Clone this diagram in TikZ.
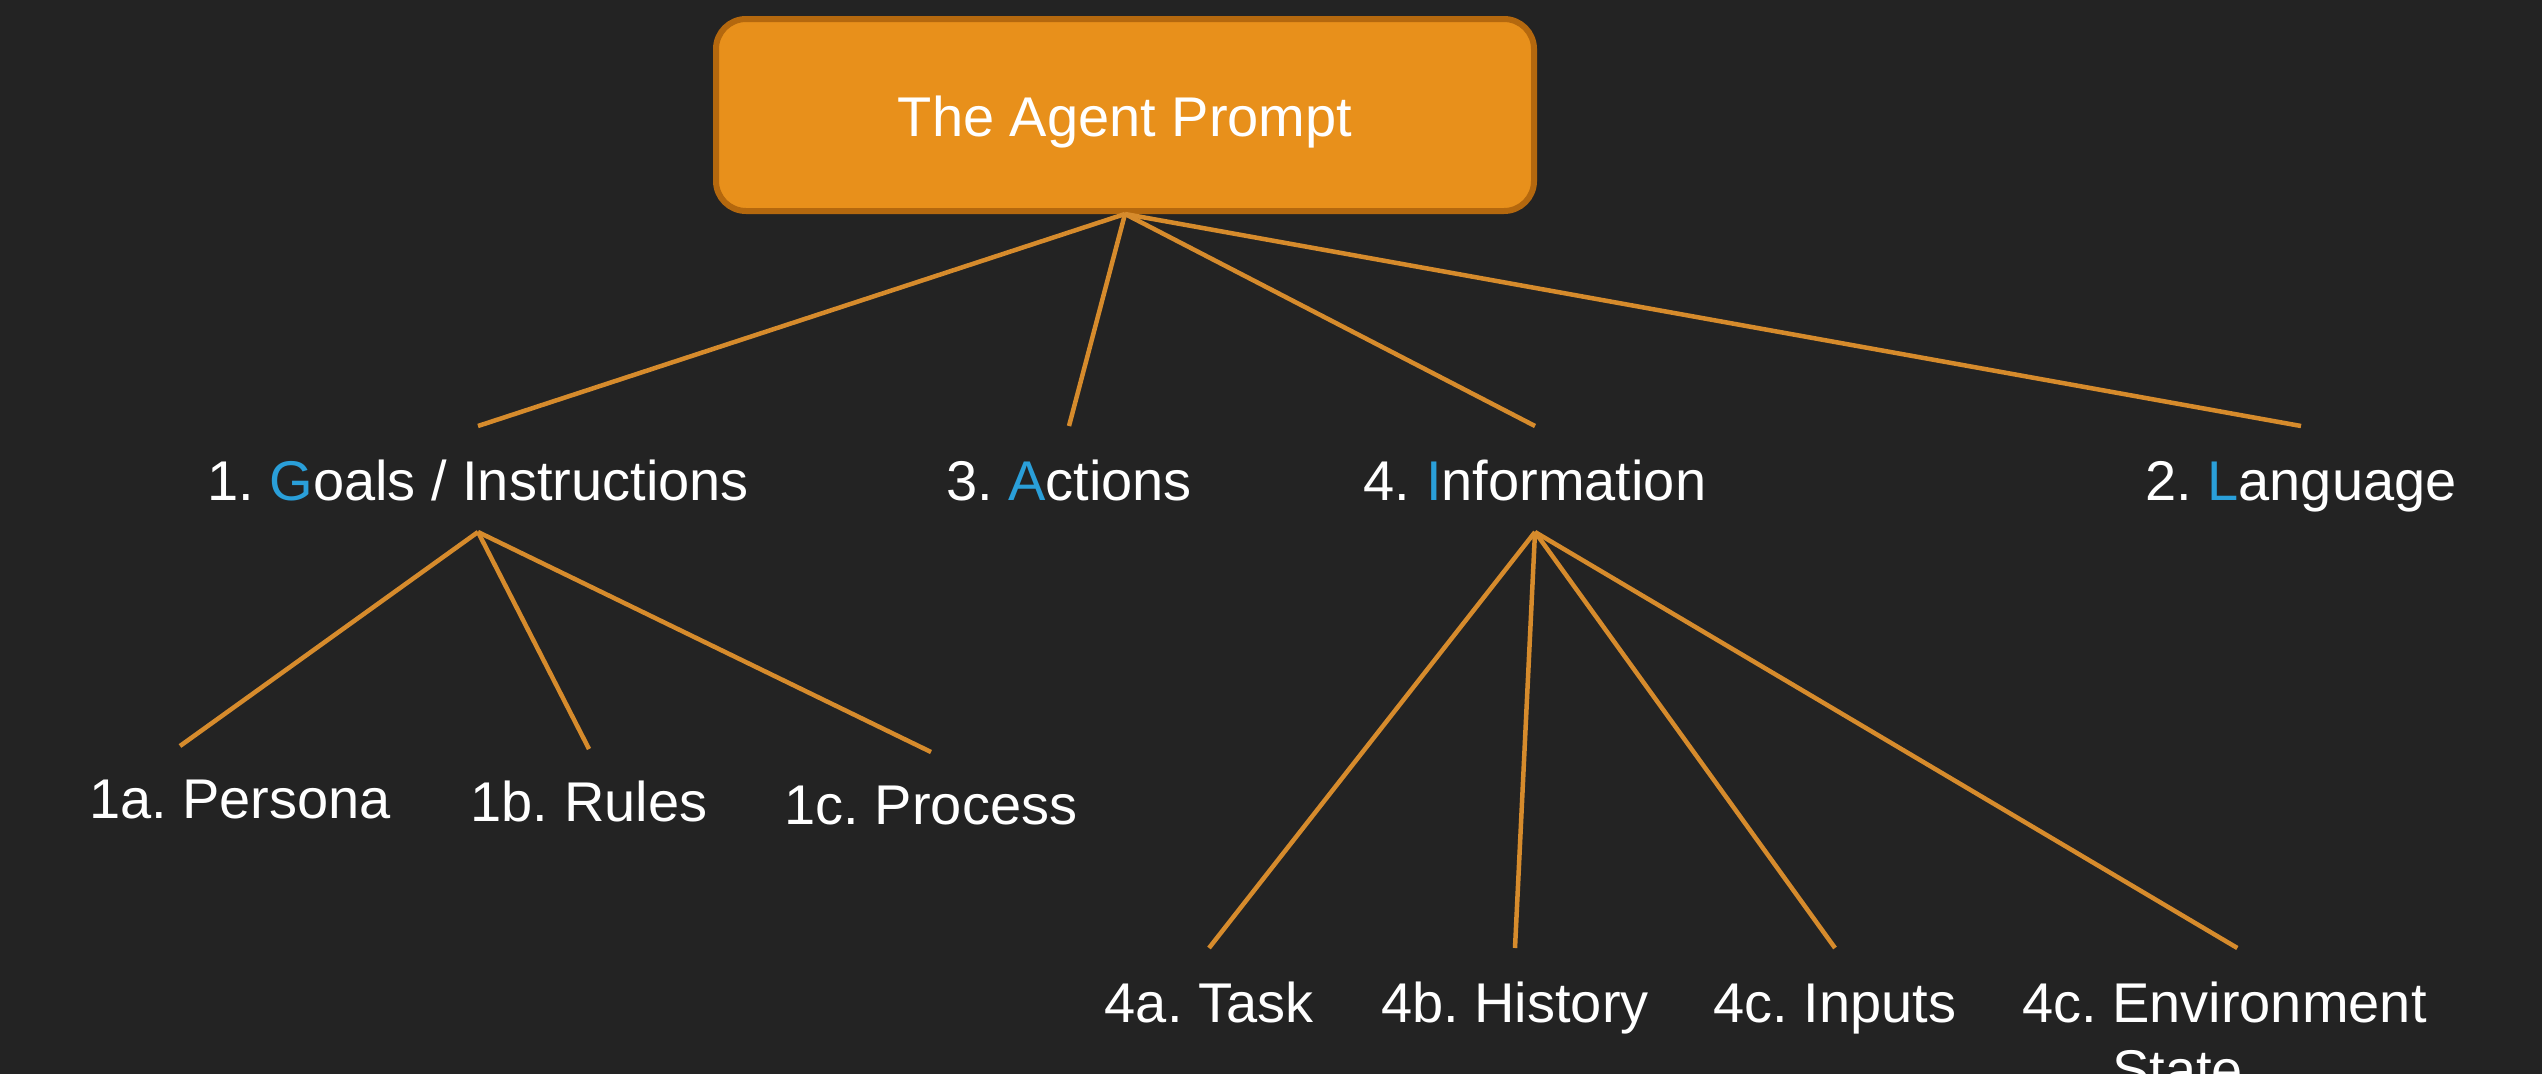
\documentclass[tikz,border=0pt]{standalone}
\usepackage{fontspec}
\setmainfont{Liberation Sans}
\frenchspacing
\definecolor{bg}{HTML}{232323}
\definecolor{boxfill}{HTML}{E8901B}
\definecolor{boxedge}{HTML}{B4680E}
\definecolor{linkc}{HTML}{D68B2C}
\definecolor{accent}{HTML}{2A9FD9}
\begin{document}
\begin{tikzpicture}[x=1pt,y=-1pt,
  lbl/.style={text=white, font=\fontsize{56}{67}\selectfont, inner sep=0pt, outer sep=0pt, anchor=base},
  lvlone/.style={lbl, text height=74pt, text depth=32pt},
  leaf/.style={lbl, text height=72pt, text depth=12pt},
  bottomleaf/.style={lbl, text height=74pt, text depth=12pt},
  link/.style={draw=linkc, line width=4.5pt}]
\fill[bg] (0,0) rectangle (2542,1074);
\useasboundingbox (0,0) rectangle (2542,1074);
\clip (0,0) rectangle (2542,1074);

\node[draw=boxedge, fill=boxfill, line width=6pt, rounded corners=30pt,
      minimum width=818pt, minimum height=192pt, text=white,
      text height=50pt, text depth=8pt,
      font=\fontsize{56}{67}\selectfont] (root) at (1125,115) {The Agent Prompt};

\node[lvlone] (goals) at (478,500) {1. \textcolor{accent}{G}oals / Instructions};
\node[lvlone] (actions) at (1069,500) {3. \textcolor{accent}{A}ctions};
\node[lvlone] (info) at (1535,500) {4. \textcolor{accent}{I}nformation};
\node[lvlone] (lang) at (2301,500) {2. \textcolor{accent}{L}anguage};

\node[leaf] (persona) at (240,818) {1a. Persona};
\node[leaf] (rules) at (589,821) {1b. Rules};
\node[leaf] (process) at (931,824) {1c. Process};

\node[bottomleaf] (task) at (1209,1022) {4a. Task};
\node[bottomleaf] (history) at (1515,1022) {4b. History};
\node[bottomleaf] (inputs) at (1835,1022) {4c. Inputs};
\node[text=white, font=\fontsize{56}{67}\selectfont, inner sep=0pt, outer sep=0pt,
      align=left, anchor=north west] (env) at (2022,948)
      {\rule{0pt}{74pt}4c. Environment\\\phantom{4c. }State};

\draw[link] (root.south) -- (goals.north);
\draw[link] (root.south) -- (actions.north);
\draw[link] (root.south) -- (info.north);
\draw[link] (root.south) -- (lang.north);

\draw[link] (goals.south) -- ([xshift=-60pt]persona.north);
\draw[link] (goals.south) -- (rules.north);
\draw[link] (goals.south) -- (process.north);

\draw[link] (info.south) -- (task.north);
\draw[link] (info.south) -- (history.north);
\draw[link] (info.south) -- (inputs.north);
\draw[link] (info.south) -- ([xshift=13pt]env.north);
\end{tikzpicture}
\end{document}
